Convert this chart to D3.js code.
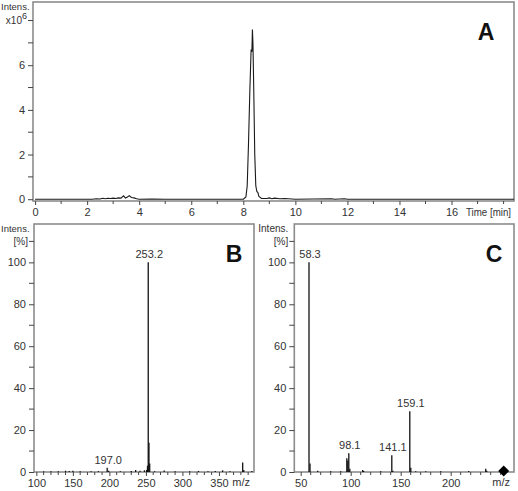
<!DOCTYPE html>
<html><head><meta charset="utf-8">
<script src="https://cdn.jsdelivr.net/npm/d3@7"></script>
<style>
html,body{margin:0;padding:0;background:#fff;}
svg{display:block;font-family:"Liberation Sans",Arial,sans-serif;}
</style></head>
<body>
<svg id="c" width="518" height="491"></svg>
<script>
// ---- Panel A: chromatogram (time in min, intensity x10^6)
const chromTime = [0,2.2,2.35,2.5,2.6,2.7,2.8,2.9,3.0,3.1,3.2,3.3,3.4,3.47,3.55,3.62,3.7,3.8,3.9,4.0,4.5,5.0,8.0,8.1,8.15,8.2,8.25,8.3,8.33,8.35,8.37,8.4,8.44,8.48,8.52,8.56,8.6,8.7,8.9,9.0,9.1,9.2,9.4,9.6,10.0,11.4,11.5,11.9,12.0,18.4];
const chromIntens = [0,0,0.02,0.01,0.04,0.02,0.04,0.03,0.05,0.03,0.06,0.05,0.15,0.05,0.1,0.16,0.08,0.06,0.02,0,0.01,0,0,0.1,0.6,2.5,4.8,6.7,6.6,7.6,7.0,5.0,2.0,0.6,0.35,0.3,0.12,0.03,0.03,0.06,0.02,0.05,0.02,0.03,0,0.02,0,0.02,0,0];
const timeTicks = [0,2,4,6,8,10,12,14,16];
const intensTicksA = [0,2,4,6];

// ---- Panel B: mass spectrum (m/z, relative intensity %)
const mzB = [110,120,130,140,145,150,160,175,185,197.0,199,215,230,236,242,248,251,252.2,253.2,254.2,255.2,262,275,290,310,322,335,345,355,365,382.5,384,395];
const relB = [0.3,0.3,0.4,0.6,0.5,0.6,0.3,0.3,0.4,2.0,0.6,0.4,0.5,1.0,0.6,0.8,1.0,3.0,100,14,4,0.4,0.7,0.4,0.4,0.5,0.4,0.5,0.8,0.4,4.5,1.0,0.5];
const labelB = ["197.0","253.2"];
const mzTicksB = [100,150,200,250,300,350];

// ---- Panel C: mass spectrum
const mzC = [58.3,59.3,67,80,90,96.1,97.1,98.1,99.1,112,113,130,141.1,142.1,159.1,160.1,165,175,190,218,235,236];
const relC = [100,4,0.6,0.3,0.4,6.5,5.5,9,1.5,1.0,0.5,0.3,8,0.6,29,2,0.4,0.3,0.4,0.5,1.5,0.6];
const labelC = ["58.3","98.1","141.1","159.1"];
const precursorC = [253];
const mzTicksC = [50,100,150,200];
const relTicks = [0,20,40,60,80,100];

const svg = d3.select("#c");
const frameCol = "#8c8c8c", axisCol = "#444", textCol = "#333";
const fs = 11;

function frame(x0,y0,x1,y1){
  svg.append("rect").attr("x",x0).attr("y",y0).attr("width",x1-x0).attr("height",y1-y0)
    .attr("fill","none").attr("stroke",frameCol).attr("stroke-width",1.6);
}
function styleAxis(g){
  g.select(".domain").remove();
  g.selectAll(".tick line").attr("stroke",axisCol).attr("stroke-width",1);
  g.selectAll(".tick text").attr("fill",textCol).attr("font-size",fs).attr("font-family","Liberation Sans, Arial, sans-serif");
}
function minorTicks(g, scale, vals, orient, len){
  vals.forEach(v=>{
    const p = scale(v);
    if(orient==="bottom") g.append("line").attr("x1",p).attr("x2",p).attr("y1",0).attr("y2",len).attr("stroke",axisCol).attr("stroke-width",1);
    else g.append("line").attr("y1",p).attr("y2",p).attr("x1",0).attr("x2",-len).attr("stroke",axisCol).attr("stroke-width",1);
  });
}

// ================= Panel A
{
  const L=33,R=514,T=2,B=201;
  const x = d3.scaleLinear().domain([-0.08,18.4]).range([L,R]);
  const y = d3.scaleLinear().domain([-0.08,8.83]).range([B,T]);
  frame(L,T,R,B);
  const gx = svg.append("g").attr("transform",`translate(0,${B})`)
    .call(d3.axisBottom(x).tickValues(timeTicks).tickSize(4).tickPadding(3).tickFormat(d3.format("d")));
  styleAxis(gx);
  minorTicks(gx, x, [1,3,5,7,9,11,13,15,17,18], "bottom", 3);
  const gy = svg.append("g").attr("transform",`translate(${L},0)`)
    .call(d3.axisLeft(y).tickValues(intensTicksA).tickSize(5).tickPadding(3).tickFormat(d3.format("d")));
  styleAxis(gy);
  minorTicks(gy, y, [1,3,5,7,8], "left", 5);
  const line = d3.line().x((d,i)=>x(chromTime[i])).y((d,i)=>y(chromIntens[i]));
  svg.append("path").datum(chromTime).attr("d",line).attr("fill","none").attr("stroke","#1a1a1a").attr("stroke-width",1.1);
  svg.append("text").attr("x",511).attr("y",B+15).attr("text-anchor","end").attr("fill",textCol).attr("font-size",10)
    .attr("textLength",45).attr("lengthAdjust","spacingAndGlyphs").text("Time [min]");
  svg.append("text").attr("x",1).attr("y",10).attr("text-anchor","start").attr("fill",textCol).attr("font-size",9.5).text("Intens.");
  const t = svg.append("text").attr("x",27).attr("y",y(8)+3).attr("text-anchor","end").attr("fill",textCol).attr("font-size",10);
  t.append("tspan").text("x10");
  t.append("tspan").attr("dy",-5).attr("font-size",9).text("6");
  svg.append("text").attr("x",486).attr("y",40).attr("text-anchor","middle").attr("font-weight","bold").attr("font-size",23).attr("fill","#111").text("A");
}

function spectrum(L,R,T,B,xdom,mz,rel,labels,ticks,letter,extraMinor,markers){
  const x = d3.scaleLinear().domain(xdom).range([L,R]);
  const y = d3.scaleLinear().domain([0,118.3]).range([B,T]);
  frame(L,T,R,B);
  const gx = svg.append("g").attr("transform",`translate(0,${B})`)
    .call(d3.axisBottom(x).tickValues(ticks).tickSize(4).tickPadding(3).tickFormat(d3.format("d")));
  styleAxis(gx);
  minorTicks(gx, x, extraMinor, "bottom", 3);
  const gy = svg.append("g").attr("transform",`translate(${L},0)`)
    .call(d3.axisLeft(y).tickValues(relTicks).tickSize(5).tickPadding(3).tickFormat(d3.format("d")));
  styleAxis(gy);
  minorTicks(gy, y, [10,30,50,70,90,110], "left", 5);
  svg.append("g").selectAll("line").data(mz).join("line")
    .attr("x1",d=>x(d)).attr("x2",d=>x(d)).attr("y1",y(0)).attr("y2",(d,i)=>y(rel[i]))
    .attr("stroke","#111").attr("stroke-width",1.3);
  labels.forEach(lab=>{
    const i = mz.indexOf(+lab);
    svg.append("text").attr("x",x(mz[i])+1).attr("y",y(rel[i])-4).attr("text-anchor","middle")
      .attr("fill",textCol).attr("font-size",fs).text(lab);
  });
  (markers||[]).forEach(m=>{
    svg.append("path").attr("d","M0,-5.5L5.5,0L0,5.5L-5.5,0Z").attr("transform",`translate(${x(m)},${y(0)-1})`).attr("fill","#000");
  });
  svg.append("text").attr("x",R-4).attr("y",B+14).attr("text-anchor","end").attr("fill",textCol).attr("font-size",fs).text("m/z");
  if (L < 100) {
    svg.append("text").attr("x",1).attr("y",232).attr("text-anchor","start").attr("fill",textCol).attr("font-size",9.5).text("Intens.");
  } else {
    svg.append("text").attr("x",L-6).attr("y",232).attr("text-anchor","end").attr("fill",textCol).attr("font-size",10).text("Intens.");
  }
  svg.append("text").attr("x",L-6).attr("y",y(110)+4).attr("text-anchor","end").attr("fill",textCol).attr("font-size",10).text("[%]");
  svg.append("text").attr("x",R-20).attr("y",262).attr("text-anchor","middle").attr("font-weight","bold").attr("font-size",23).attr("fill","#111").text(letter);
}

spectrum(34,254,224,472,[96.8,398],mzB,relB,labelB,mzTicksB,"B",
  d3.range(110,400,10).filter(v=>v%50!==0),null);
spectrum(294.3,514,224,472,[43.6,263.3],mzC,relC,labelC,mzTicksC,"C",
  d3.range(60,260,10).filter(v=>v%50!==0).concat([250]),precursorC);
</script>
</body></html>
